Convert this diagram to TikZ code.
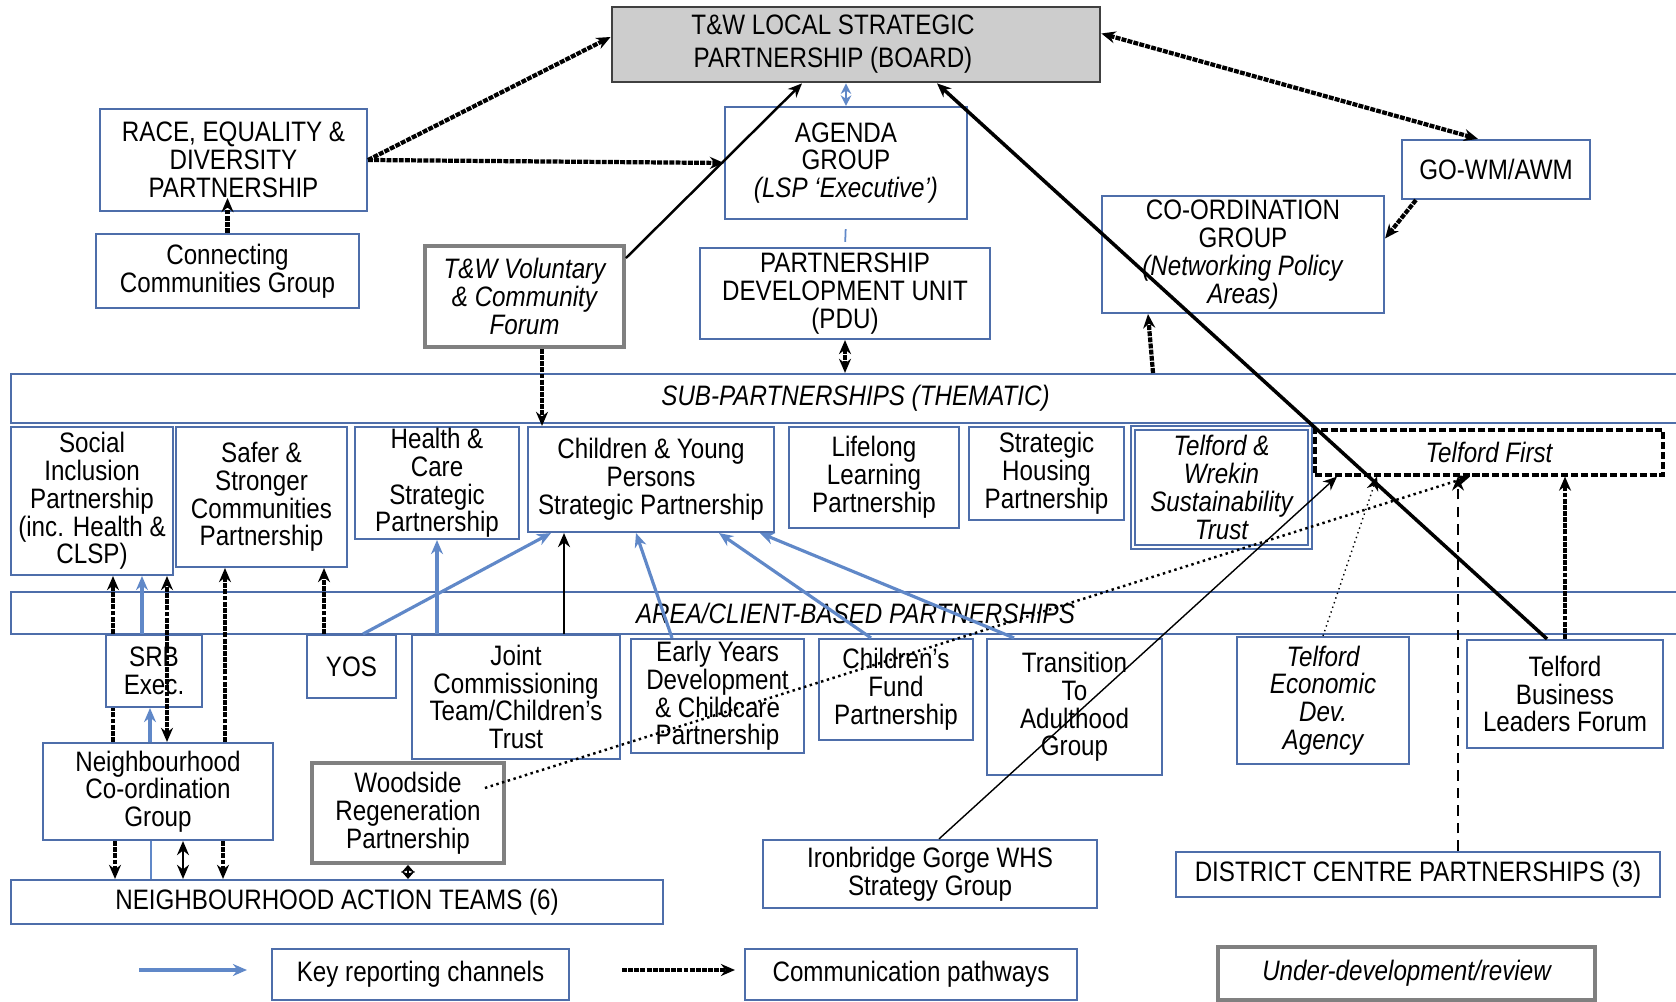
\documentclass[tikz,border=0pt]{standalone}
\usepackage{fontspec}
\setmainfont{Liberation Sans}[FakeStretch=0.86]
\definecolor{twblue}{RGB}{78,110,170}
\definecolor{twarrow}{RGB}{96,136,200}
\definecolor{twgray}{RGB}{128,128,128}
\definecolor{twfill}{RGB}{205,205,205}
\usetikzlibrary{arrows.meta,calc}

\begin{document}
\begin{tikzpicture}[x=0.1mm, y=-0.1mm, >={Stealth[length=4pt,width=3.4pt]},
  every node/.style={font=\fontsize{8}{7.9}\selectfont, align=center, inner sep=0pt},
  it/.style={font=\fontsize{8}{7.9}\selectfont\itshape},
  sz/.style 2 args={minimum width=#1mm, minimum height=#2mm},
  box/.style={draw=twblue, line width=0.6pt},
  devbox/.style={draw=twgray, line width=1.1pt},
  band/.style={box, minimum width=168.9mm, it},
  comm/.style={->, black, line width=1.2pt, dash pattern=on 1.4pt off 0.35pt},
  report/.style={->, twarrow, line width=0.9pt},
  link/.style={->, black, line width=0.7pt},
  faint/.style={->, black, line width=0.4pt}]
  \useasboundingbox (0,0) rectangle (1676,1002);
  \clip (0,0) rectangle (1676,1002);
  \node[box, fill=twfill, draw=black!75, line width=0.8pt, sz={48.8}{7.5}, font=\fontsize{8}{9.4}\selectfont] (board) at (856,44.5) {T\&W LOCAL STRATEGIC\hspace*{4.6mm}\\PARTNERSHIP (BOARD)\hspace*{4.6mm}};
  \node[box, sz={26.7}{10.2}] (race) at (233.5,160) {RACE, EQUALITY \&\\DIVERSITY\\PARTNERSHIP};
  \node[box, sz={26.3}{7.4}] (conn) at (227.5,271) {Connecting\\Communities Group};
  \node[devbox, sz={19.9}{10.1}, it] (vol) at (524.5,296.5) {T\&W Voluntary\\\& Community\\Forum};
  \node[box, sz={24.2}{11.2}] (agenda) at (846,163) {AGENDA\\GROUP\\\textit{(LSP ‘Executive’)}};
  \node[box, sz={29}{9.1}] (pdu) at (845,293.5) {PARTNERSHIP\\DEVELOPMENT UNIT\\(PDU)};
  \node[box, sz={18.8}{5.9}] (gowm) at (1496,169.5) {GO-WM/AWM};
  \node[box, sz={28.2}{11.7}] (coord) at (1243,254.5) {CO-ORDINATION\\GROUP\\\textit{(Networking Policy}\\\textit{Areas)}};
  \node[band, minimum height=4.9mm] (subband) at (855.5,398.5) {SUB-PARTNERSHIPS (THEMATIC)};
  \node[band, minimum height=4.2mm] (areaband) at (855.5,613) {AREA/CLIENT-BASED PARTNERSHIPS};
  \node[box, sz={16.2}{14.8}] (social) at (92,501) {Social\\Inclusion\\Partnership\\(inc. Health \&\\CLSP)};
  \node[box, sz={17.1}{14}] (safer) at (261.5,497) {Safer \&\\Stronger\\Communities\\Partnership};
  \node[box, sz={16.4}{11.2}] (health) at (437,483) {Health \&\\Care\\Strategic\\Partnership};
  \node[box, sz={24.6}{10.5}] (cyp) at (651,479.5) {Children \& Young\\Persons\\Strategic Partnership};
  \node[box, sz={17}{10.1}] (lifelong) at (874,477.5) {Lifelong\\Learning\\Partnership};
  \node[box, sz={15.5}{9.3}] (housing) at (1046.5,473.5) {Strategic\\Housing\\Partnership};
  \node[box, double, double distance=0.5pt, sz={17.7}{11.9}, it] (twst) at (1221.5,487.5) {Telford \&\\Wrekin\\Sustainability\\Trust};
  \node[draw, dash pattern=on 2pt off 0.8pt, line width=0.9pt, sz={34.8}{4.5}, it] (tfirst) at (1489,452.5) {Telford First};
  \node[box, sz={9.6}{7.2}] (srb) at (154,671) {SRB\\Exec.};
  \node[box, sz={8.9}{6.3}] (yos) at (351.5,666.5) {YOS};
  \node[box, sz={20.8}{12.4}] (jct) at (516,697) {Joint\\Commissioning\\Team/Children's\\Trust};
  \node[box, sz={17.3}{11.4}] (eyd) at (717.5,696) {Early Years\\Development\\\& Childcare\\Partnership};
  \node[box, sz={15.4}{10.1}] (cfp) at (896,689.5) {Children's\\Fund\\Partnership};
  \node[box, sz={17.5}{13.6}] (tta) at (1074.5,707) {Transition\\To\\Adulthood\\Group};
  \node[box, sz={17.2}{12.7}, it] (ted) at (1323,700.5) {Telford\\Economic\\Dev.\\Agency};
  \node[box, sz={19.6}{10.8}] (tblf) at (1565,694) {Telford\\Business\\Leaders Forum};
  \node[box, sz={23}{9.7}] (nbhd) at (158,791.5) {Neighbourhood\\Co-ordination\\Group};
  \node[devbox, sz={19.2}{10}] (woodside) at (408,813) {Woodside\\Regeneration\\Partnership};
  \node[box, sz={65.2}{4.4}] (nat) at (337,902) {NEIGHBOURHOOD ACTION TEAMS (6)};
  \node[box, sz={33.4}{6.8}] (iron) at (930,874) {Ironbridge Gorge WHS\\Strategy Group};
  \node[box, sz={48.4}{4.5}] (dcp) at (1418,874.5) {DISTRICT CENTRE PARTNERSHIPS (3)};
  \node[box, sz={29.7}{5.1}] (keyrep) at (420.5,974.5) {Key reporting channels};
  \node[box, sz={33.2}{5.1}] (commkey) at (911,974.5) {Communication pathways};
  \node[devbox, sz={37.7}{5.3}, it] (undev) at (1406.5,973.5) {Under-development/review};
  \coordinate (kr0) at (139,970);
  \coordinate (kr1) at (247,970);
  \coordinate (cp0) at (622,970);
  \coordinate (cp1) at (735,970);

  \draw[comm] (race.east) -- ([yshift=0.75mm]board.west);
  \draw[comm] (race.east) -- (agenda.west);
  \draw[comm, shorten >=-1.4mm] (conn.north) -- (conn.north |- race.south);
  \draw[link] ([yshift=-1.4mm]vol.north east) -- ([xshift=-5.4mm]board.south);
  \draw[twarrow, line width=0.5pt, {Stealth[length=3pt,width=3pt]}-{Stealth[length=3pt,width=3pt]}] (agenda.north) -- (agenda.north |- board.south);
  \draw[twarrow, line width=0.5pt, shorten <=0.9mm, shorten >=0.5mm] (agenda.south) -- (pdu.north);
  \draw[comm, <->] (pdu.south) -- (pdu.south |- subband.north);
  \draw[comm] (vol.south -| 542,0) -- (cyp.north -| 542,0);
  \draw[comm] (subband.north -| 1153,0) -- (coord.south -| 1148,0);
  \draw[comm] ([xshift=1.5mm]gowm.south west) -- ([yshift=1.6mm]coord.east);
  \draw[comm, <->] ([yshift=1.1mm]board.east) -- ([xshift=-1.8mm]gowm.north);
  \draw[link, line width=1pt] ([xshift=-1.8mm]tblf.north) -- ([xshift=8.1mm]board.south);
  \draw[comm] (tblf.north) -- (tblf.north |- tfirst.south);
  \draw[faint, densely dotted] (ted.north) -- (tfirst.south -| 1377,0);
  \draw[faint, densely dashed] (dcp.north -| 1458,0) -- (tfirst.south -| 1458,0);
  \draw[faint, line width=0.7pt, densely dotted] ([xshift=-2.1mm,yshift=2.5mm]woodside.east) -- (tfirst.south -| 1470,0);
  \draw[faint] ([xshift=0.9mm]iron.north) -- (tfirst.south -| 1337,0);
  \draw[report] ([xshift=-3.4mm]yos.north east) -- ([xshift=-10mm]cyp.south);
  \draw[report] (jct.north -| health.south) -- (health.south);
  \draw[link] (jct.north -| 564,0) -- (cyp.south -| 564,0);
  \draw[report] (eyd.north -| 672,0) -- (cyp.south -| 636,0);
  \draw[report] (cfp.north -| 871,0) -- (cyp.south -| 719,0);
  \draw[report] (tta.north -| 1014,0) -- (cyp.south -| 760,0);
  \draw[report] (srb.north -| 142,0) -- (social.south -| 142,0);
  \draw[comm] (srb.north -| 113,0) -- (social.south -| 113,0);
  \draw[comm, -] (nbhd.north -| 113,0) -- (srb.south -| 113,0);
  \draw[comm, <->] (nbhd.north -| 167,0) -- (social.south -| 167,0);
  \draw[report] (nbhd.north -| 150,0) -- (srb.south -| 150,0);
  \draw[comm] (nbhd.north -| 225,0) -- (safer.south -| 225,0);
  \draw[comm] (yos.north -| 324,0) -- (safer.south -| 324,0);
  \draw[comm] (nbhd.south -| 115,0) -- (nat.north -| 115,0);
  \draw[twarrow, line width=0.5pt] (nbhd.south -| 151,0) -- (nat.north -| 151,0);
  \draw[link, <->] (nbhd.south -| 183,0) -- (nat.north -| 183,0);
  \draw[comm] (nbhd.south -| 223,0) -- (nat.north -| 223,0);
  \draw[link, {Stealth[length=2.2pt,width=3.8pt]}-{Stealth[length=2.2pt,width=3.8pt]}] (woodside.south) -- (woodside.south |- nat.north);
  \draw[report] (kr0) -- (kr1);
  \draw[comm] (cp0) -- (cp1);
\end{tikzpicture}
\end{document}
